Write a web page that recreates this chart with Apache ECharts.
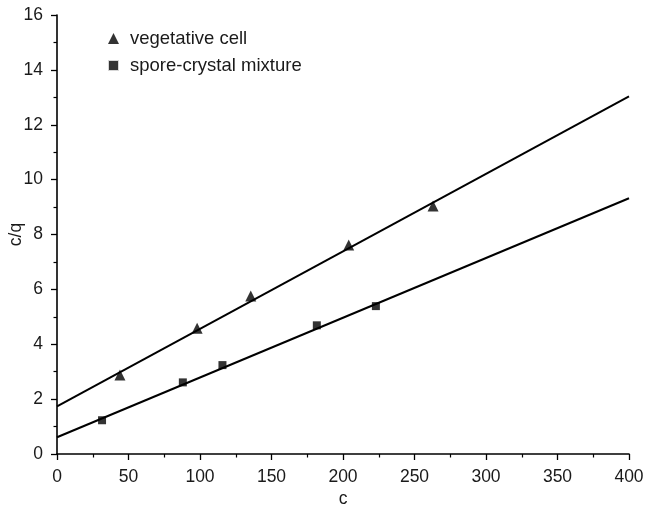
<!DOCTYPE html>
<html>
<head>
<meta charset="utf-8">
<script src="https://cdn.jsdelivr.net/npm/echarts@6/dist/echarts.min.js"></script>
<style>
  html, body { margin: 0; padding: 0; background: #fff; }
  #chart { width: 647px; height: 506px; }
</style>
</head>
<body>
<div id="chart"></div>
<script>
// measured points
const vegX = [44, 98, 135.5, 204, 263];
const vegY = [2.88, 4.58, 5.76, 7.62, 9.04];
const sporeX = [31.5, 88, 115.7, 181.7, 223];
const sporeY = [1.23, 2.61, 3.24, 4.69, 5.39];
// fitted lines, read at c = 0 and c = 400
const fitX = [0, 400];
const vegFitY = [1.74, 13.03];
const sporeFitY = [0.61, 9.32];

const pairs = (xs, ys) => xs.map((x, i) => [x, ys[i]]);

const font = 'Liberation Sans, Arial, sans-serif';
const axisCommon = {
  axisLine: { show: true, lineStyle: { color: '#000', width: 1.6 } },
  axisTick: { show: true, length: 6, lineStyle: { color: '#000', width: 1.3 } },
  minorTick: { show: true, splitNumber: 2, length: 3.5, lineStyle: { color: '#000', width: 1.2 } },
  splitLine: { show: false },
  axisLabel: { color: '#1a1a1a', fontSize: 17.5, fontFamily: font, margin: 14 },
  nameTextStyle: { color: '#1a1a1a', fontSize: 17.5, fontFamily: font },
  nameMoveOverlap: false
};

const chart = echarts.init(document.getElementById('chart'));
chart.setOption({
  animation: false,
  backgroundColor: '#fff',
  grid: { left: 57, right: 18, top: 15, bottom: 52, outerBoundsMode: 'none' },
  legend: {
    left: 102, top: 24, orient: 'vertical', itemGap: 8,
    itemWidth: 11, itemHeight: 11,
    textStyle: { color: '#1a1a1a', fontSize: 18.5, fontFamily: font, padding: [0, 0, 0, 6] },
    data: [
      { name: 'vegetative cell', icon: 'triangle' },
      { name: 'spore-crystal mixture', icon: 'rect', itemStyle: { borderWidth: 2, borderColor: '#fff' } }
    ]
  },
  xAxis: Object.assign({}, axisCommon, {
    type: 'value', min: 0, max: 400, interval: 50,
    name: 'c', nameLocation: 'middle', nameGap: 36
  }),
  yAxis: Object.assign({}, axisCommon, {
    type: 'value', min: 0, max: 16, interval: 2,
    name: 'c/q', nameLocation: 'middle', nameGap: 32, nameRotate: 90
  }),
  series: [
    {
      name: 'vegetative cell', type: 'scatter', symbol: 'triangle', symbolSize: 11,
      itemStyle: { color: '#000' }, data: pairs(vegX, vegY), z: 3
    },
    {
      name: 'spore-crystal mixture', type: 'scatter', symbol: 'rect', symbolSize: 8,
      itemStyle: { color: '#000' }, data: pairs(sporeX, sporeY), z: 3
    },
    {
      type: 'line', showSymbol: false, silent: true,
      lineStyle: { color: '#000', width: 2 }, data: pairs(fitX, vegFitY)
    },
    {
      type: 'line', showSymbol: false, silent: true,
      lineStyle: { color: '#000', width: 2 }, data: pairs(fitX, sporeFitY)
    }
  ]
});
</script>
</body>
</html>
